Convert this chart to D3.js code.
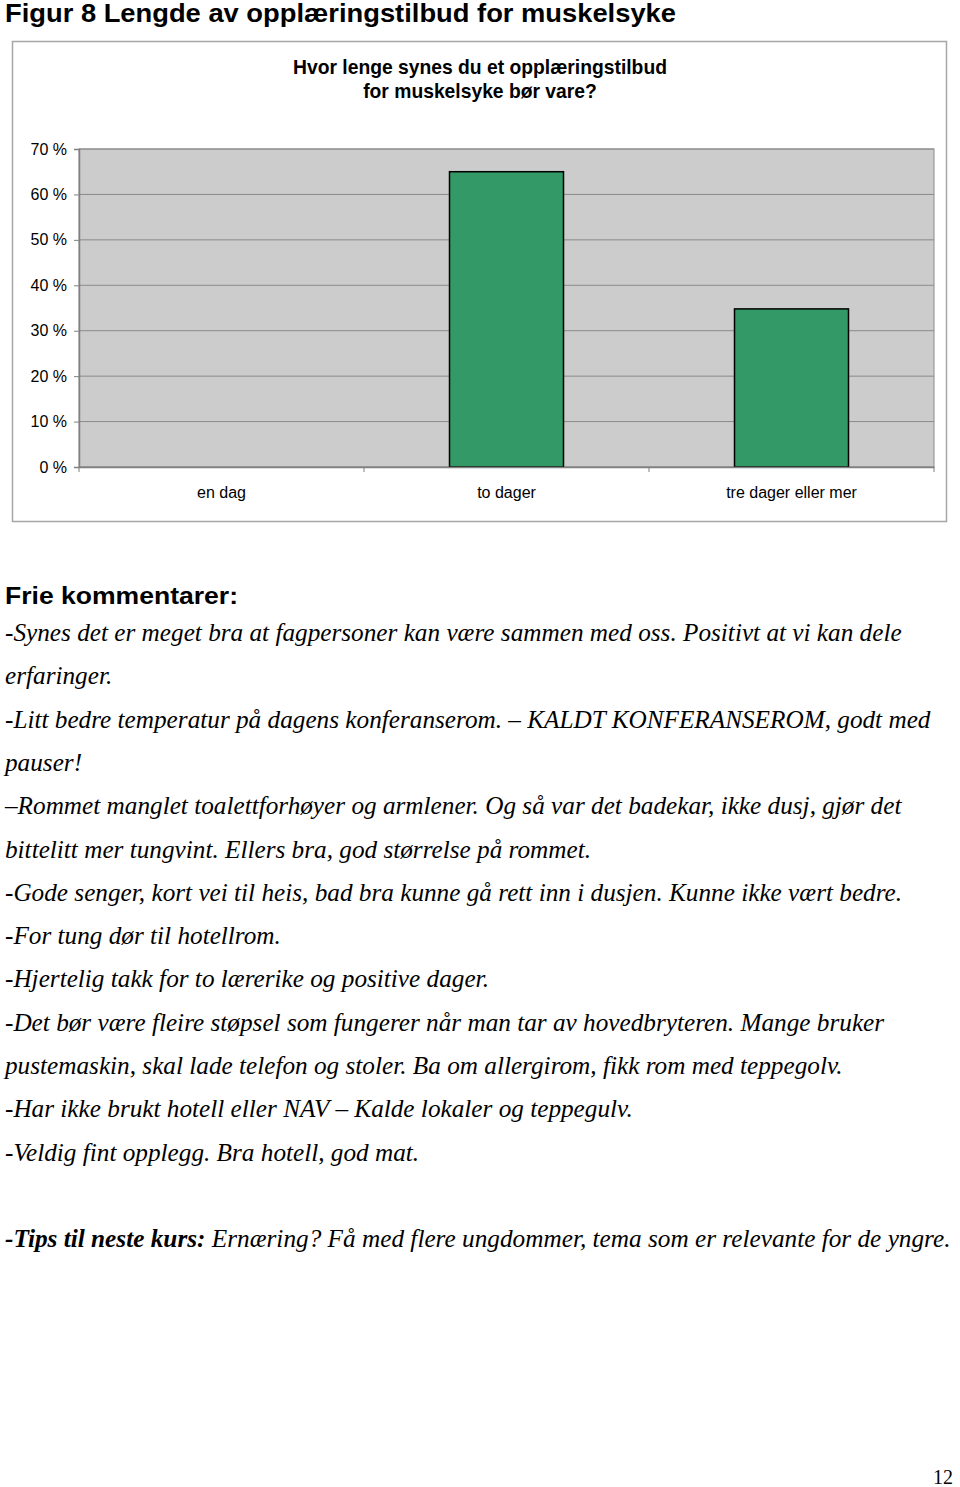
<!DOCTYPE html>
<html><head><meta charset="utf-8">
<script src="https://cdn.jsdelivr.net/npm/d3@7"></script>
<style>html,body{margin:0;padding:0;background:#fff;} svg{display:block}</style>
</head><body><svg id="c" width="960" height="1487"></svg>
<script>
// ---- data ----
const pageTitle = "Figur 8 Lengde av opplæringstilbud for muskelsyke";
const chartTitle = ["Hvor lenge synes du et opplæringstilbud", "for muskelsyke bør vare?"];
const categories = ["en dag", "to dager", "tre dager eller mer"];
const values = [0, 65.0, 34.8];
const yTicks = [0, 10, 20, 30, 40, 50, 60, 70];
const commentHeading = "Frie kommentarer:";
const comments = [
  "-Synes det er meget bra at fagpersoner kan være sammen med oss. Positivt at vi kan dele",
  "erfaringer.",
  "-Litt bedre temperatur på dagens konferanserom. – KALDT KONFERANSEROM, godt med",
  "pauser!",
  "–Rommet manglet toalettforhøyer og armlener. Og så var det badekar, ikke dusj, gjør det",
  "bittelitt mer tungvint. Ellers bra, god størrelse på rommet.",
  "-Gode senger, kort vei til heis, bad bra kunne gå rett inn i dusjen. Kunne ikke vært bedre.",
  "-For tung dør til hotellrom.",
  "-Hjertelig takk for to lærerike og positive dager.",
  "-Det bør være fleire støpsel som fungerer når man tar av hovedbryteren. Mange bruker",
  "pustemaskin, skal lade telefon og stoler. Ba om allergirom, fikk rom med teppegolv.",
  "-Har ikke brukt hotell eller NAV – Kalde lokaler og teppegulv.",
  "-Veldig fint opplegg. Bra hotell, god mat."
];
const tipsLabel = "-Tips til neste kurs:";
const tipsText = " Ernæring? Få med flere ungdommer, tema som er relevante for de yngre.";
const pageNumber = "12";

// ---- drawing ----
const svg = d3.select("#c");
const SANS = "'Liberation Sans', Arial, sans-serif";
const SERIF = "'Liberation Serif', 'Times New Roman', serif";

function fitTo(sel, width) {
  sel.attr("textLength", width).attr("lengthAdjust", "spacingAndGlyphs");
}

// page title
const pt = svg.append("text").attr("x", 5).attr("y", 22)
  .attr("font-family", SANS).attr("font-weight", "bold").attr("font-size", 25.5)
  .attr("fill", "#000").text(pageTitle);
fitTo(pt, 671);

// chart frame
const frame = {x: 12, y: 41, w: 934, h: 480};
svg.append("rect").attr("x", frame.x + 0.5).attr("y", frame.y + 0.5)
  .attr("width", frame.w).attr("height", frame.h)
  .attr("fill", "#fff").attr("stroke", "#a6a6a6").attr("stroke-width", 1.5);

// chart title
svg.append("g").selectAll("text").data(chartTitle).join("text")
  .attr("x", 480).attr("y", (d, i) => 74 + i * 24)
  .attr("text-anchor", "middle")
  .attr("font-family", SANS).attr("font-weight", "bold").attr("font-size", 19.3)
  .attr("fill", "#000").text(d => d);

const plot = {left: 79, right: 934, top: 149, bottom: 467};
const x = d3.scaleBand().domain(categories).range([plot.left, plot.right])
  .paddingInner(0.6).paddingOuter(0.3);
const y = d3.scaleLinear().domain([0, 70]).range([plot.bottom, plot.top]);

// plot background
svg.append("rect").attr("x", plot.left).attr("y", plot.top)
  .attr("width", plot.right - plot.left).attr("height", plot.bottom - plot.top)
  .attr("fill", "#cccccc").attr("stroke", "#8c8c8c").attr("stroke-width", 1);

// gridlines
svg.append("g").selectAll("line").data(yTicks).join("line")
  .attr("x1", plot.left).attr("x2", plot.right)
  .attr("y1", d => y(d)).attr("y2", d => y(d))
  .attr("stroke", "#8a8a8a").attr("stroke-width", 1);

// y axis
const yAxis = d3.axisLeft(y).tickValues(yTicks).tickSize(5).tickPadding(7)
  .tickFormat(d => d + " %");
const gy = svg.append("g").attr("transform", `translate(${plot.left},0)`).call(yAxis);
gy.select(".domain").attr("stroke", "#808080").attr("stroke-width", 1.5);
gy.selectAll(".tick line").attr("stroke", "#808080");
gy.selectAll(".tick text").attr("font-family", SANS).attr("font-size", 16).attr("fill", "#000");

// bars
svg.append("g").selectAll("rect").data(categories.map((c, i) => ({c, v: values[i]})))
  .join("rect")
  .filter(d => d.v > 0)
  .attr("x", d => x(d.c)).attr("width", x.bandwidth())
  .attr("y", d => y(d.v)).attr("height", d => y(0) - y(d.v))
  .attr("fill", "#339966").attr("stroke", "#000").attr("stroke-width", 1.5);

// x axis
const xAxis = d3.axisBottom(x).tickSize(0).tickPadding(20);
const gx = svg.append("g").attr("transform", `translate(0,${plot.bottom})`).call(xAxis);
gx.select(".domain").attr("stroke", "#808080").attr("stroke-width", 1.5);
gx.selectAll(".tick text").attr("font-family", SANS).attr("font-size", 16).attr("fill", "#000");
// category boundary ticks
const step = x.step();
const bounds = d3.range(categories.length + 1).map(i => plot.left + i * step);
gx.append("g").selectAll("line").data(bounds).join("line")
  .attr("x1", d => d).attr("x2", d => d).attr("y1", 0).attr("y2", 5)
  .attr("stroke", "#808080").attr("stroke-width", 1);

// comments heading
const ch = svg.append("text").attr("x", 5).attr("y", 604)
  .attr("font-family", SANS).attr("font-weight", "bold").attr("font-size", 24)
  .attr("fill", "#000").text(commentHeading);
fitTo(ch, 233);

// comment lines (uniform horizontal condensation)
const lineStep = 43.3, firstBase = 641;
const gc = svg.append("g");
const lines = gc.selectAll("text").data(comments).join("text")
  .attr("x", 0).attr("y", 0)
  .attr("font-family", SERIF).attr("font-style", "italic").attr("font-size", 25)
  .attr("fill", "#000").text(d => d);
const w0 = lines.nodes()[0].getComputedTextLength();
const k = 897 / w0;
lines.attr("transform", (d, i) => `translate(5,${firstBase + i * lineStep}) scale(${k},1)`);

// tips line
const tips = svg.append("text")
  .attr("font-family", SERIF).attr("font-style", "italic").attr("font-size", 25)
  .attr("fill", "#000");
tips.append("tspan").attr("font-weight", "bold").text(tipsLabel);
tips.append("tspan").text(tipsText);
const wt = tips.node().getComputedTextLength();
const kt = 946 / wt;
tips.attr("transform", `translate(5,${firstBase + (comments.length + 1) * lineStep}) scale(${kt},1)`);

// page number
svg.append("text").attr("x", 953).attr("y", 1484).attr("text-anchor", "end")
  .attr("font-family", SERIF).attr("font-size", 20).attr("fill", "#000").text(pageNumber);
</script>
</body></html>
